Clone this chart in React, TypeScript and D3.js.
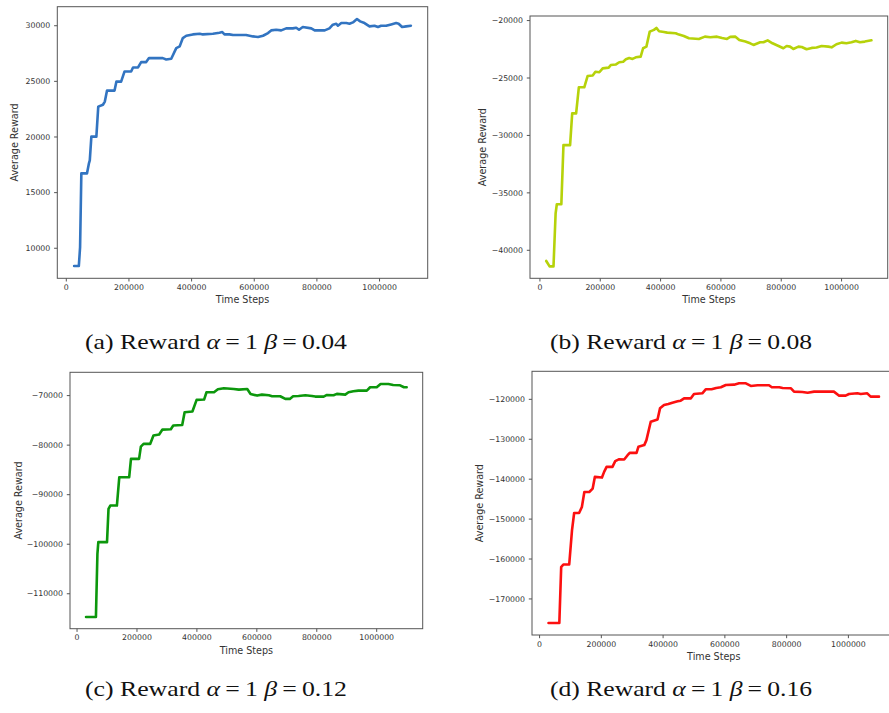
import * as d3 from "d3";

// values
const xTicks = [0, 200000, 400000, 600000, 800000, 1000000];

const stepsA = [25000, 40000, 44000, 48000, 66000, 72000, 75000, 80000, 96000, 102000, 117000, 123000, 130000, 154000, 160000, 175000, 186000, 207000, 213000, 229000, 239000, 255000, 264000, 308000, 319000, 335000, 351000, 362000, 372000, 383000, 404000, 426000, 436000, 468000, 489000, 498000, 505000, 521000, 532000, 574000, 596000, 612000, 628000, 644000, 654000, 670000, 686000, 702000, 723000, 734000, 743000, 755000, 782000, 793000, 825000, 840000, 851000, 862000, 867000, 878000, 894000, 904000, 915000, 928000, 938000, 952000, 968000, 984000, 995000, 1005000, 1021000, 1037000, 1053000, 1061000, 1072000, 1085000, 1100000];
const rewardA = [8410, 8410, 10100, 16730, 16730, 17600, 17900, 20030, 20030, 22730, 22900, 23180, 24170, 24170, 24980, 24980, 25890, 25890, 26250, 26250, 26730, 26730, 27090, 27090, 26970, 27030, 27990, 28140, 28890, 29100, 29220, 29280, 29220, 29280, 29370, 29430, 29220, 29220, 29160, 29160, 29040, 28980, 29100, 29340, 29580, 29640, 29580, 29760, 29760, 29820, 29640, 29880, 29760, 29580, 29580, 29760, 30090, 30180, 30000, 30240, 30240, 30180, 30300, 30600, 30390, 30240, 29940, 30000, 29880, 30000, 30000, 30120, 30240, 30180, 29880, 29940, 30000];
const yTicksA = [10000, 15000, 20000, 25000, 30000];

const stepsB = [21000, 32000, 45000, 52000, 56000, 71000, 78000, 100000, 107000, 120000, 129000, 147000, 158000, 175000, 184000, 197000, 208000, 228000, 235000, 252000, 263000, 276000, 285000, 296000, 307000, 318000, 334000, 342000, 353000, 364000, 378000, 386000, 395000, 411000, 422000, 450000, 461000, 477000, 494000, 527000, 547000, 565000, 587000, 604000, 620000, 631000, 648000, 661000, 681000, 697000, 708000, 730000, 741000, 755000, 771000, 791000, 807000, 818000, 829000, 840000, 857000, 868000, 884000, 901000, 917000, 934000, 956000, 967000, 983000, 1000000, 1016000, 1033000, 1047000, 1061000, 1077000, 1099000];
const rewardB = [-40930, -41400, -41400, -36800, -35990, -35990, -30840, -30840, -28080, -28080, -25810, -25810, -24830, -24780, -24450, -24500, -24160, -24100, -23870, -23820, -23630, -23580, -23370, -23260, -23340, -23200, -23140, -22410, -22270, -20960, -20810, -20640, -20930, -20990, -21050, -21100, -21220, -21340, -21540, -21600, -21400, -21450, -21400, -21510, -21600, -21420, -21400, -21690, -21830, -21980, -22120, -21890, -21890, -21720, -21980, -22210, -22410, -22210, -22270, -22470, -22270, -22300, -22500, -22380, -22350, -22210, -22270, -22330, -22060, -21920, -21980, -21890, -21770, -21890, -21830, -21720];
const yTicksB = [-40000, -35000, -30000, -25000, -20000];

const stepsC = [30000, 63000, 68000, 71000, 100000, 105000, 111000, 133000, 141000, 174000, 180000, 207000, 213000, 222000, 244000, 255000, 274000, 285000, 313000, 321000, 351000, 359000, 385000, 399000, 424000, 432000, 457000, 470000, 490000, 523000, 540000, 568000, 579000, 601000, 617000, 640000, 651000, 678000, 695000, 710000, 721000, 739000, 762000, 784000, 795000, 823000, 834000, 856000, 867000, 895000, 906000, 922000, 939000, 967000, 978000, 1000000, 1013000, 1039000, 1055000, 1078000, 1091000, 1100000];
const rewardC = [-114700, -114700, -101930, -99580, -99580, -92860, -92190, -92190, -86470, -86470, -82770, -82770, -80290, -79750, -79750, -78070, -77870, -76860, -76800, -76050, -75950, -73360, -73220, -70870, -70800, -69330, -69330, -68720, -68520, -68660, -68790, -68660, -69660, -70000, -69800, -69930, -70130, -70130, -70670, -70670, -70130, -70070, -69930, -70070, -70200, -70200, -69870, -69930, -69660, -69800, -69330, -69130, -69000, -69000, -68320, -68320, -67650, -67650, -67850, -67920, -68320, -68320];
const yTicksC = [-110000, -100000, -90000, -80000, -70000];

const stepsD = [29000, 64000, 70000, 77000, 96000, 105000, 112000, 128000, 137000, 145000, 161000, 172000, 179000, 202000, 209000, 217000, 236000, 245000, 258000, 274000, 285000, 292000, 314000, 320000, 339000, 346000, 360000, 382000, 390000, 403000, 417000, 430000, 447000, 457000, 468000, 490000, 500000, 527000, 538000, 557000, 572000, 587000, 603000, 630000, 646000, 668000, 684000, 706000, 743000, 752000, 776000, 787000, 814000, 824000, 851000, 868000, 889000, 953000, 970000, 991000, 1002000, 1029000, 1040000, 1061000, 1072000, 1099000];
const rewardD = [-176030, -176030, -162040, -161370, -161370, -152830, -148480, -148480, -146970, -143200, -143200, -142360, -139430, -139600, -138170, -136920, -136920, -135490, -134990, -135070, -133990, -133400, -133400, -131890, -131470, -130220, -125610, -125030, -122260, -121420, -121170, -120840, -120500, -120330, -119750, -119750, -118660, -118490, -117490, -117490, -117150, -116980, -116400, -116320, -115980, -115980, -116650, -116480, -116480, -116980, -116980, -117150, -117240, -118070, -118160, -118330, -118070, -118070, -119080, -119080, -118660, -118490, -118660, -118490, -119330, -119330];
const yTicksD = [-170000, -160000, -150000, -140000, -130000, -120000];

const captions = [
  { tag: "(a)", beta: "0.04" },
  { tag: "(b)", beta: "0.08" },
  { tag: "(c)", beta: "0.12" },
  { tag: "(d)", beta: "0.16" },
];

// plot boxes in page pixels
const panels = [
  { xs: stepsA, ys: rewardA, yTicks: yTicksA, color: "#3274c1", left: 57.3, right: 427.7, top: 6.7, bottom: 278.3, ylabX: 15, capX: 85, capY: 349 },
  { xs: stepsB, ys: rewardB, yTicks: yTicksB, color: "#b6d20a", left: 530, right: 887.7, top: 16, bottom: 278.3, ylabX: 482.7, capX: 550, capY: 349 },
  { xs: stepsC, ys: rewardC, yTicks: yTicksC, color: "#0c970c", left: 70, right: 422.7, top: 372.3, bottom: 628.7, ylabX: 18.3, capX: 85, capY: 696 },
  { xs: stepsD, ys: rewardD, yTicks: yTicksD, color: "#fc1010", left: 532, right: 895.5, top: 371.3, bottom: 635, ylabX: 479.3, capX: 550, capY: 696 },
];

const fmt = (v: number) => (v < 0 ? "\u2212" + Math.abs(v) : String(v));

function padded(vals: number[]): [number, number] {
  const [lo, hi] = d3.extent(vals) as [number, number];
  const m = (hi - lo) * 0.05;
  return [lo - m, hi + m];
}

const sp = "\u2009"; // thin space around "="

function Panel({ p, cap }: { p: any; cap: any }) {
  const x = d3.scaleLinear().domain(padded(p.xs)).range([p.left, p.right]);
  const y = d3.scaleLinear().domain(padded(p.ys)).range([p.bottom, p.top]);
  const pts: [number, number][] = p.xs.map((v: number, i: number) => [v, p.ys[i]]);
  const path = d3.line<[number, number]>().x((d) => x(d[0])).y((d) => y(d[1]))(pts) ?? "";
  const font = "DejaVu Sans, sans-serif";
  const tickCol = "#555";
  return (
    <g>
      <path d={path} fill="none" stroke={p.color} strokeWidth={2.6} strokeLinejoin="round" strokeLinecap="round" />
      <rect x={p.left} y={p.top} width={p.right - p.left} height={p.bottom - p.top} fill="none" stroke="#555" strokeWidth={1} />
      {xTicks.map((t) => (
        <g key={`x${t}`} transform={`translate(${x(t)},${p.bottom})`}>
          <line y1={0} y2={3.2} stroke={tickCol} />
          <text y={9} dy="0.35em" textAnchor="middle" fontSize={7.8} fontFamily={font} fill="#333">{t}</text>
        </g>
      ))}
      {p.yTicks.map((t: number) => (
        <g key={`y${t}`} transform={`translate(${p.left},${y(t)})`}>
          <line x1={0} x2={-3.2} stroke={tickCol} />
          <text x={-7} dy="0.35em" textAnchor="end" fontSize={7.8} fontFamily={font} fill="#333">{fmt(t)}</text>
        </g>
      ))}
      <text x={(p.left + p.right) / 2} y={p.bottom + 21.5} dy="0.35em" textAnchor="middle" fontSize={9.6} fontFamily={font} fill="#333">Time Steps</text>
      <text transform={`translate(${p.ylabX},${(p.top + p.bottom) / 2}) rotate(-90)`} dy="0.35em" textAnchor="middle" fontSize={9.6} fontFamily={font} fill="#333">Average Reward</text>
      <text x={p.capX} y={p.capY} fontSize={21} fontFamily="Liberation Serif, serif" fill="#111" textLength={262} lengthAdjust="spacingAndGlyphs">
        {cap.tag} Reward <tspan fontStyle="italic">α</tspan>{sp}={sp}1 <tspan fontStyle="italic">β</tspan>{sp}={sp}{cap.beta}
      </text>
    </g>
  );
}

export default function App() {
  return (
    <svg width={889} height={713} style={{ position: "absolute", left: 0, top: 0, background: "#fff" }}>
      {panels.map((p, i) => (
        <Panel key={i} p={p} cap={captions[i]} />
      ))}
    </svg>
  );
}
